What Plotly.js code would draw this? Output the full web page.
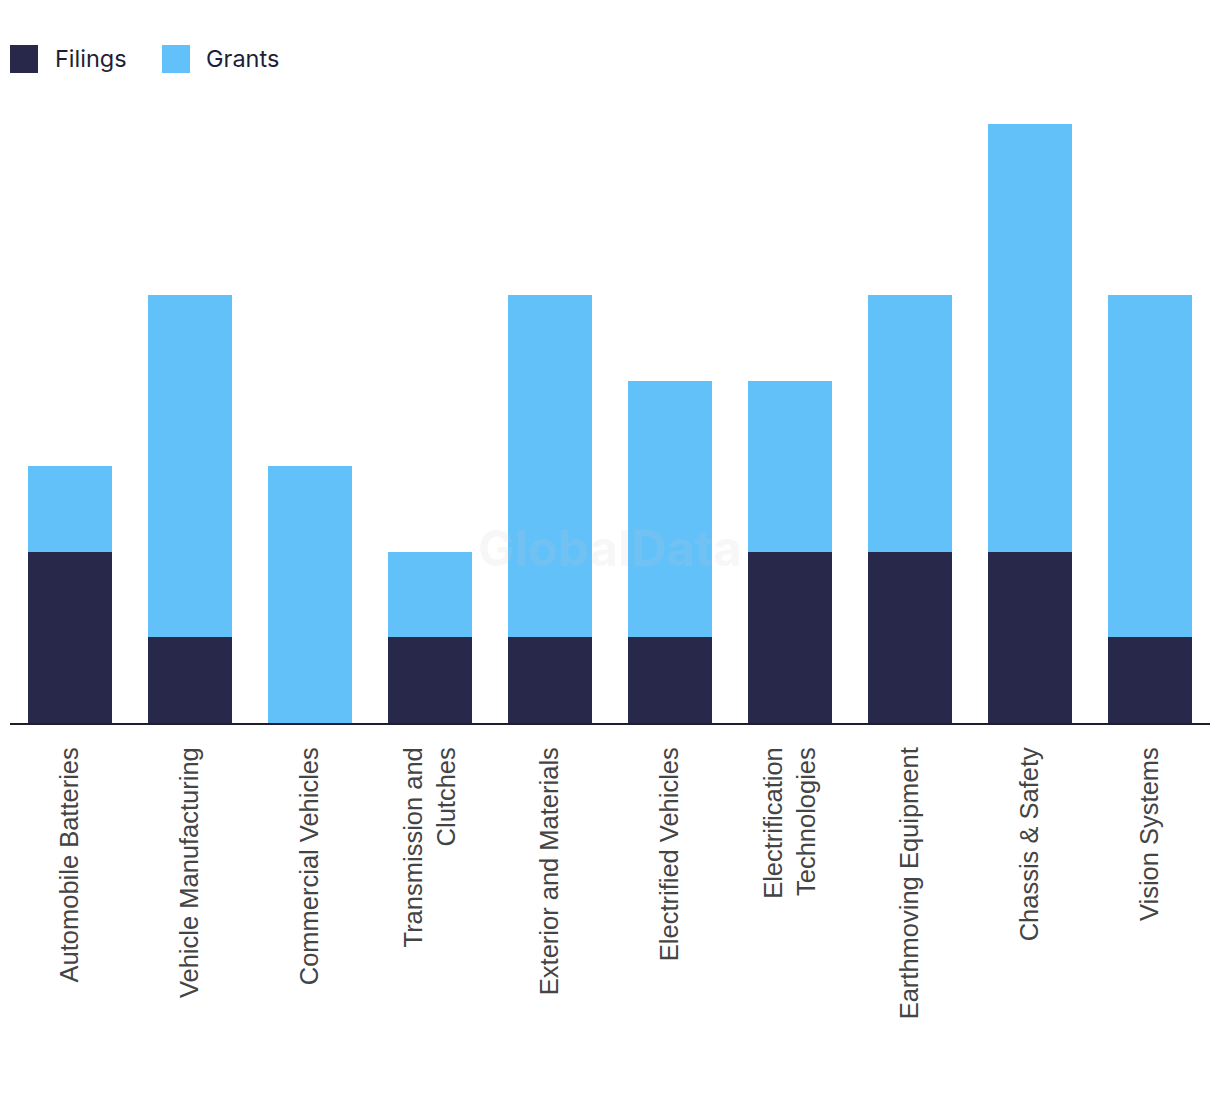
<!DOCTYPE html>
<html>
<head>
<meta charset="utf-8">
<script src="https://cdn.plot.ly/plotly-3.0.1.min.js"></script>
<style>html,body{margin:0;padding:0;background:#fff;}</style>
</head>
<body>
<div id="chart" style="width:1220px;height:1094px;"></div>
<script>
const categories = [
  "Automobile Batteries",
  "Vehicle Manufacturing",
  "Commercial Vehicles",
  "Transmission and<br>Clutches",
  "Exterior and Materials",
  "Electrified Vehicles",
  "Electrification<br>Technologies",
  "Earthmoving Equipment",
  "Chassis & Safety",
  "Vision Systems"
];
const filings = [2, 1, 0, 1, 1, 1, 2, 2, 2, 1];
const grants  = [1, 4, 3, 1, 4, 3, 2, 3, 5, 4];
const seriesNames = ["Filings", "Grants"];
const colors = ["#27284A", "#62C1F9"];

const traces = [
  {type: "bar", name: seriesNames[0], x: categories, y: filings, marker: {color: colors[0]}, hoverinfo: "x+y+name", showlegend: false},
  {type: "bar", name: seriesNames[1], x: categories, y: grants, marker: {color: colors[1]}, hoverinfo: "x+y+name", showlegend: false}
];

const legendFont = {family: "Inter, 'Liberation Sans', Arial, sans-serif", size: 23.5, color: "#1E1E36"};
const shapes = [
  {type: "rect", xref: "paper", yref: "paper", x0: 0, x1: 28/1200, y0: 1 + (124-73)/599, y1: 1 + (124-45)/599, fillcolor: colors[0], line: {width: 0}},
  {type: "rect", xref: "paper", yref: "paper", x0: 152/1200, x1: 180/1200, y0: 1 + (124-73)/599, y1: 1 + (124-45)/599, fillcolor: colors[1], line: {width: 0}}
];
const annotations = [
  {xref: "paper", yref: "paper", x: 43/1200, y: 1 + (124-58)/599, xanchor: "left", yanchor: "middle", text: seriesNames[0], showarrow: false, font: legendFont},
  {xref: "paper", yref: "paper", x: 194/1200, y: 1 + (124-58)/599, xanchor: "left", yanchor: "middle", text: seriesNames[1], showarrow: false, font: legendFont},
  {xref: "paper", yref: "paper", x: 0.5, y: (723-548)/599, xanchor: "center", yanchor: "middle", text: "<b>GlobalData</b>", showarrow: false,
   font: {family: "Inter, 'Liberation Sans', Arial, sans-serif", size: 49, color: "rgba(200,200,200,0.15)"}}
];

const layout = {
  width: 1220, height: 1094,
  margin: {l: 10, r: 10, t: 124, b: 371},
  barmode: "stack",
  bargap: 0.3,
  paper_bgcolor: "#ffffff",
  plot_bgcolor: "#ffffff",
  showlegend: false,
  xaxis: {
    tickangle: -90,
    tickfont: {family: "'Liberation Sans', Arial, sans-serif", size: 25.5, color: "#444444"},
    showline: true, linecolor: "#1E1E2E", linewidth: 2,
    ticks: "", ticklabelstandoff: 12,
    showgrid: false, zeroline: false, automargin: false
  },
  yaxis: {
    range: [0, 7], showticklabels: false, showgrid: false, zeroline: false, showline: false, ticks: "", fixedrange: true
  },
  shapes: shapes,
  annotations: annotations
};

Plotly.newPlot("chart", traces, layout, {displayModeBar: false, staticPlot: true});
</script>
</body>
</html>
